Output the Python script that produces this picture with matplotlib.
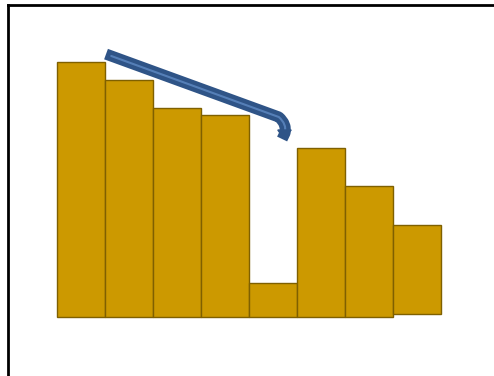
import matplotlib.pyplot as plt
from matplotlib.path import Path
from matplotlib.patches import PathPatch, Polygon
import numpy as np

# bar heights (baseline = 0) and bottom offsets
heights = [255, 237, 209, 202, 34, 169, 131, 89]
bottoms = [0, 0, 0, 0, 0, 0, 0, 3]
positions = np.arange(len(heights))

fig = plt.figure(figsize=(4.94, 3.76), dpi=100)
ax = fig.add_axes([0, 0, 1, 1])
ax.set_xlim(-1.6875, 8.604)
ax.set_ylim(-59, 317)
ax.axis('off')

ax.bar(positions, heights, width=1.0, bottom=bottoms, color='#CC9900',
       edgecolor='#7F6000', linewidth=1.0, align='center')

# frame: top and left lines only
fig.add_artist(plt.Line2D([7.5/494, 1], [1-5/376, 1-5/376], color='black', lw=2, transform=fig.transFigure))
fig.add_artist(plt.Line2D([8/494, 8/494], [0, 1-5/376], color='black', lw=2, transform=fig.transFigure))

# bent arrow from the first bar towards the dip
verts = [(0.63, 261), (4.12, 200), (4.29, 193), (4.25, 184), (4.24, 183)]
codes = [Path.MOVETO, Path.LINETO, Path.CURVE3, Path.CURVE3, Path.LINETO]
path = Path(verts, codes)
ax.add_patch(PathPatch(path, fill=False, edgecolor='#2F5487', lw=8, capstyle='projecting', joinstyle='round'))
ax.add_patch(PathPatch(path, fill=False, edgecolor='#5A84BD', lw=1.5, capstyle='round', alpha=0.9))
ax.add_patch(Polygon([(4.10, 187), (4.38, 187), (4.22, 179)], closed=True,
                     facecolor='#2F5487', edgecolor='#2F5487', lw=1))

fig.savefig('out.png', dpi=100)
